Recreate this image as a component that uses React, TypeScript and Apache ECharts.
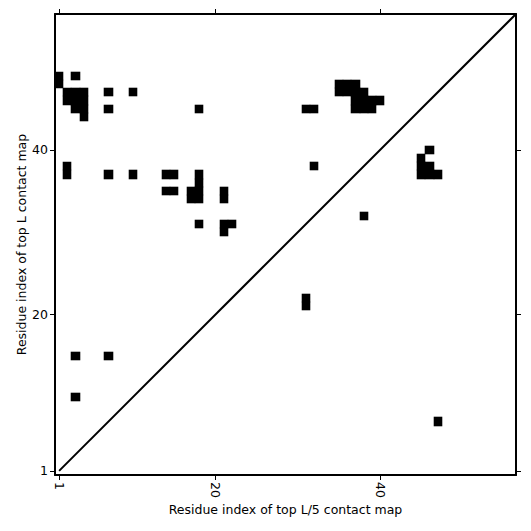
import React, { useEffect, useRef } from "react";
import * as echarts from "echarts";

// Residue indices (x = top L/5 map, y = top L map)
const contactX: number[] = [
  1, 1, 3,
  2, 3, 4, 2, 3, 4, 3, 4, 4,
  7, 10, 7, 18,
  2, 2, 7, 10, 14, 15, 14, 15,
  18, 18, 18, 18, 17, 17,
  21, 21,
  18, 21, 22, 21,
  31, 32,
  35, 36, 37, 35, 36, 37, 38,
  37, 38, 39, 40, 37, 38, 39,
  32, 38, 31, 31,
  46, 45, 45, 45, 46, 46, 47,
  3, 7, 3, 47,
];
const contactY: number[] = [
  48, 49, 49,
  47, 47, 47, 46, 46, 46, 45, 45, 44,
  47, 47, 45, 45,
  38, 37, 37, 37, 37, 37, 35, 35,
  37, 36, 35, 34, 35, 34,
  35, 34,
  31, 31, 31, 30,
  45, 45,
  48, 48, 48, 47, 47, 47, 47,
  46, 46, 46, 46, 45, 45, 45,
  38, 32, 22, 21,
  40, 39, 38, 37, 38, 37, 37,
  15, 15, 10, 7,
];
const tickValues: number[] = [1, 20, 40];
const axisMin = 0.5;
const axisMax = 56.5;
const diagonal: number[][] = [
  [1, 1],
  [56.5, 56.5],
];

const FONT = "DejaVu Sans";

export default function App() {
  const ref = useRef<HTMLDivElement>(null);
  useEffect(() => {
    if (!ref.current) return;
    const chart = echarts.init(ref.current, undefined, { renderer: "svg" });
    const cells = contactX.map((x, i) => [x, contactY[i]]);
    const lineStyle = { color: "#000", width: 2 };
    const tick = {
      show: true,
      inside: false,
      length: 5,
      customValues: tickValues,
      lineStyle: { color: "#000", width: 1 },
    };
    const baseAxis = {
      type: "value",
      min: axisMin,
      max: axisMax,
      splitLine: { show: false },
      axisLine: { show: true, onZero: false, lineStyle },
      axisTick: tick,
    };
    chart.setOption({
      animation: false,
      backgroundColor: "#fff",
      grid: { left: 55, right: 15, top: 14, bottom: 56, containLabel: false },
      xAxis: [
        {
          ...baseAxis,
          position: "bottom",
          name: "Residue index of top L/5 contact map",
          nameLocation: "middle",
          nameGap: 28,
          nameMoveOverlap: false,
          nameTextStyle: { fontFamily: FONT, fontSize: 12.5, color: "#000" },
          axisLabel: {
            show: true,
            customValues: tickValues,
            rotate: -90,
            margin: 7,
            fontFamily: FONT,
            fontSize: 12.5,
            color: "#000",
          },
        },
        {
          ...baseAxis,
          position: "top",
          axisLabel: { show: false },
        },
      ],
      yAxis: [
        {
          ...baseAxis,
          position: "left",
          name: "Residue index of top L contact map",
          nameLocation: "middle",
          nameGap: 27,
          nameMoveOverlap: false,
          nameTextStyle: { fontFamily: FONT, fontSize: 12.5, color: "#000" },
          axisLabel: {
            show: true,
            customValues: tickValues,
            margin: 7,
            fontFamily: FONT,
            fontSize: 12.5,
            color: "#000",
          },
        },
        {
          ...baseAxis,
          position: "right",
          axisLabel: { show: false },
        },
      ],
      series: [
        {
          type: "custom",
          xAxisIndex: 0,
          yAxisIndex: 0,
          data: cells,
          renderItem: (params: any, api: any) => {
            const x = api.value(0);
            const y = api.value(1);
            const p1 = api.coord([x - 0.5, y + 0.5]);
            const p2 = api.coord([x + 0.5, y - 0.5]);
            const x0 = Math.round(p1[0]);
            const y0 = Math.round(p1[1]);
            const x1 = Math.round(p2[0]);
            const y1 = Math.round(p2[1]);
            return {
              type: "rect",
              shape: { x: x0 - 0.3, y: y0 - 0.3, width: x1 - x0 + 0.6, height: y1 - y0 + 0.6 },
              style: { fill: "#000", stroke: "none", lineWidth: 0 },
            };
          },
        },
        {
          type: "line",
          xAxisIndex: 0,
          yAxisIndex: 0,
          data: diagonal,
          symbol: "none",
          lineStyle: { color: "#000", width: 2 },
          silent: true,
        },
      ],
    });
    return () => chart.dispose();
  }, []);
  return (
    <div
      ref={ref}
      style={{ position: "fixed", left: 0, top: 0, width: 531, height: 531, background: "#fff" }}
    />
  );
}
